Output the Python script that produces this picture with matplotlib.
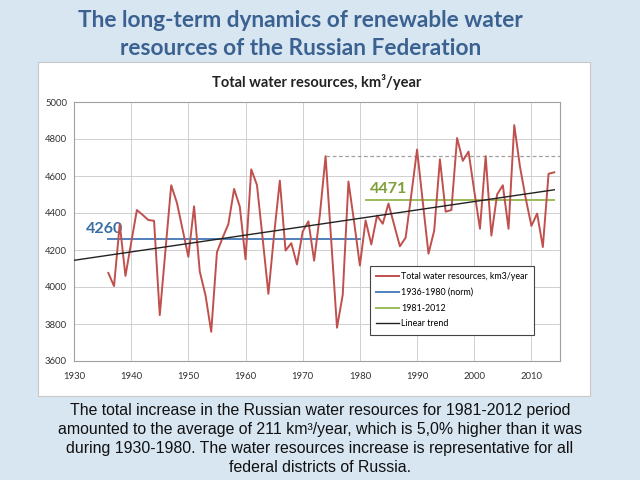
import numpy as np
import matplotlib
matplotlib.use('Agg')
from matplotlib import pyplot as plt
from matplotlib.patches import Rectangle

# yearly totals, km3/year
years = list(range(1936, 2015))
water = [4076, 4005, 4340, 4060, 4240, 4416, 4390, 4362, 4358, 3848,
         4200, 4550, 4455, 4310, 4163, 4436, 4083, 3955, 3758, 4188,
         4267, 4340, 4530, 4434, 4150, 4636, 4551, 4260, 3963, 4285,
         4575, 4197, 4237, 4122, 4300, 4355, 4142, 4390, 4707, 4245,
         3780, 3958, 4570, 4350, 4116, 4360, 4230, 4386, 4342, 4451,
         4335, 4220, 4267, 4500, 4743, 4460, 4180, 4305, 4690, 4407,
         4416, 4805, 4682, 4732, 4520, 4315, 4707, 4278, 4500, 4550,
         4315, 4875, 4650, 4480, 4330, 4397, 4216, 4612, 4620]

norm_years = [1936, 1980]
norm_value = 4260
recent_years = [1981, 2014]
recent_value = 4471
peak_years = [1974, 2015]
peak_value = 4707

title = 'The long-term dynamics of renewable water\nresources of the Russian Federation'
caption = ('The total increase in the Russian water resources for 1981-2012 period\n'
           'amounted to the average of 211 km\u00b3/year, which is 5,0% higher than it was\n'
           'during 1930-1980. The water resources increase is representative for all\n'
           'federal districts of Russia.')

red = '#c0504d'
blue = '#4f81bd'
green = '#9bbb59'

fig = plt.figure(figsize=(6.4, 4.8), dpi=100, facecolor='#d8e6f2')

# white panel behind the chart
fig.patches.append(Rectangle((38 / 640, 1 - 396 / 480), 552 / 640, 334 / 480,
                             transform=fig.transFigure, facecolor='white',
                             edgecolor='#c8c8c8', linewidth=0.8, zorder=-5))

fig.text(0.47, 0.979, title, ha='center', va='top', fontsize=16.3,
         fontweight='bold', color='#3a6190', family='Lato', linespacing=1.38)

ax = fig.add_axes([74 / 640, 1 - 361 / 480, 486 / 640, 259 / 480])
ax.set_facecolor('white')

ax.plot(years, water, color=red, lw=1.4, label='Total water resources, km3/year', zorder=4)
ax.plot(norm_years, [norm_value] * 2, color=blue, lw=1.4, label='1936-1980 (norm)', zorder=3)
ax.plot(recent_years, [recent_value] * 2, color=green, lw=1.4, label='1981-2012', zorder=3)

k, b = np.polyfit(years, water, 1)
tx = np.array([1930, 2014])
ax.plot(tx, k * tx + b, color='#222222', lw=1.0, label='Linear trend', zorder=5)

ax.plot(peak_years, [peak_value] * 2, color='#a0a0a0', lw=0.9, ls=(0, (3, 2)), zorder=2)

ax.text(1932, 4312, str(norm_value), color='#3a6ea5', fontsize=11.5,
        fontweight='bold', va='center', family='Lato')
ax.text(1981.8, 4532, str(recent_value), color='#7f9f3a', fontsize=11.5,
        fontweight='bold', va='center', family='Lato')

ax.set_xlim(1930, 2015)
ax.set_ylim(3600, 5000)
ax.set_xticks(range(1930, 2011, 10))
ax.set_yticks(range(3600, 5001, 200))
ax.grid(True, color='#d0d0d0', lw=0.7)
ax.set_axisbelow(True)
ax.tick_params(labelsize=6.8, colors='#333333', length=0)
ax.tick_params(axis='x', pad=8)
ax.tick_params(axis='y', pad=5)
for lbl in ax.get_xticklabels() + ax.get_yticklabels():
    lbl.set_family('Lato')
for s in ax.spines.values():
    s.set_color('#a0a0a0')
    s.set_linewidth(0.8)

ax.set_title('Total water resources, km\u00b3/year', fontsize=10.5, fontweight='bold',
             color='#222222', family='Lato', pad=11)

leg = ax.legend(loc='lower left', bbox_to_anchor=(0.6, 0.085), fontsize=6.4,
                prop={'family': 'Lato', 'size': 6.4},
                handlelength=2.6, handletextpad=0.2, labelspacing=0.75,
                fancybox=False, framealpha=1, borderpad=0.7)
leg.get_frame().set_edgecolor('#444444')
leg.get_frame().set_linewidth(0.8)

fig.text(0.5, 0.16, caption, ha='center', va='top', fontsize=11.4,
         color='#111111', family='Liberation Sans', linespacing=1.32)

fig.savefig('out.png', dpi=100, facecolor=fig.get_facecolor())
